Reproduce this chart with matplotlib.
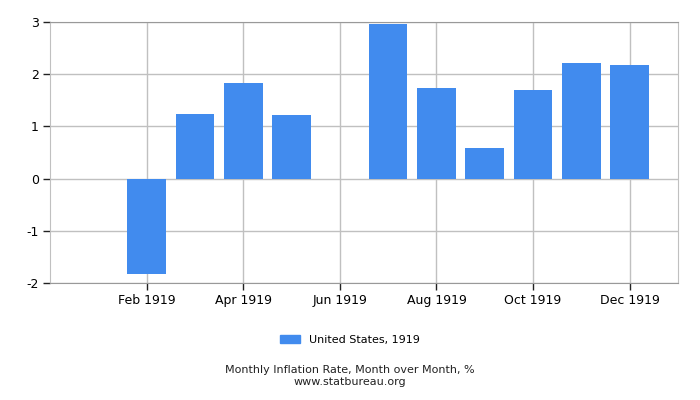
import numpy as np
import matplotlib
matplotlib.use("Agg")
from matplotlib import pyplot as plt
from matplotlib.patches import Patch

# monthly inflation, 1919 (Jan and Jun show no bar)
months = np.arange(1, 13)
values = [0.0, -1.82, 1.23, 1.83, 1.21, 0.0, 2.96, 1.73, 0.58, 1.69, 2.21, 2.17]
tick_months = [2, 4, 6, 8, 10, 12]
tick_labels = ["Feb 1919", "Apr 1919", "Jun 1919", "Aug 1919", "Oct 1919", "Dec 1919"]
series_name = "United States, 1919"

bar_color = "#418BEE"
grid_color = "#C0C0C0"

fig = plt.figure(figsize=(7, 4), dpi=100)
ax = fig.add_axes([50 / 700, 117 / 400, 628 / 700, 261 / 400])

ax.bar(months, values, width=0.8, color=bar_color, zorder=3)

ax.set_xlim(0, 13)
ax.set_ylim(-2, 3)
ax.set_xticks(tick_months)
ax.set_xticklabels(tick_labels, fontsize=9)
ax.set_yticks(range(-2, 4))
ax.set_yticklabels([str(v) for v in range(-2, 4)], fontsize=9)

ax.grid(True, color=grid_color, linewidth=1, zorder=0)
ax.tick_params(length=5, width=1, color="#222222", pad=3)
for side in ["left", "right", "top"]:
    ax.spines[side].set_color(grid_color)
ax.spines["top"].set_color("#999999")
ax.spines["bottom"].set_color("#999999")

fig.legend(handles=[Patch(color=bar_color, label=series_name)],
           loc="center", bbox_to_anchor=(0.5, 1 - 340 / 400), frameon=False,
           fontsize=8, handlelength=1.8, handleheight=0.7)

fig.text(0.5, 1 - 370 / 400, "Monthly Inflation Rate, Month over Month, %",
         ha="center", va="center", fontsize=8, color="#222222")
fig.text(0.5, 1 - 382 / 400, "www.statbureau.org",
         ha="center", va="center", fontsize=8, color="#222222")

fig.savefig("out.png", dpi=100)
